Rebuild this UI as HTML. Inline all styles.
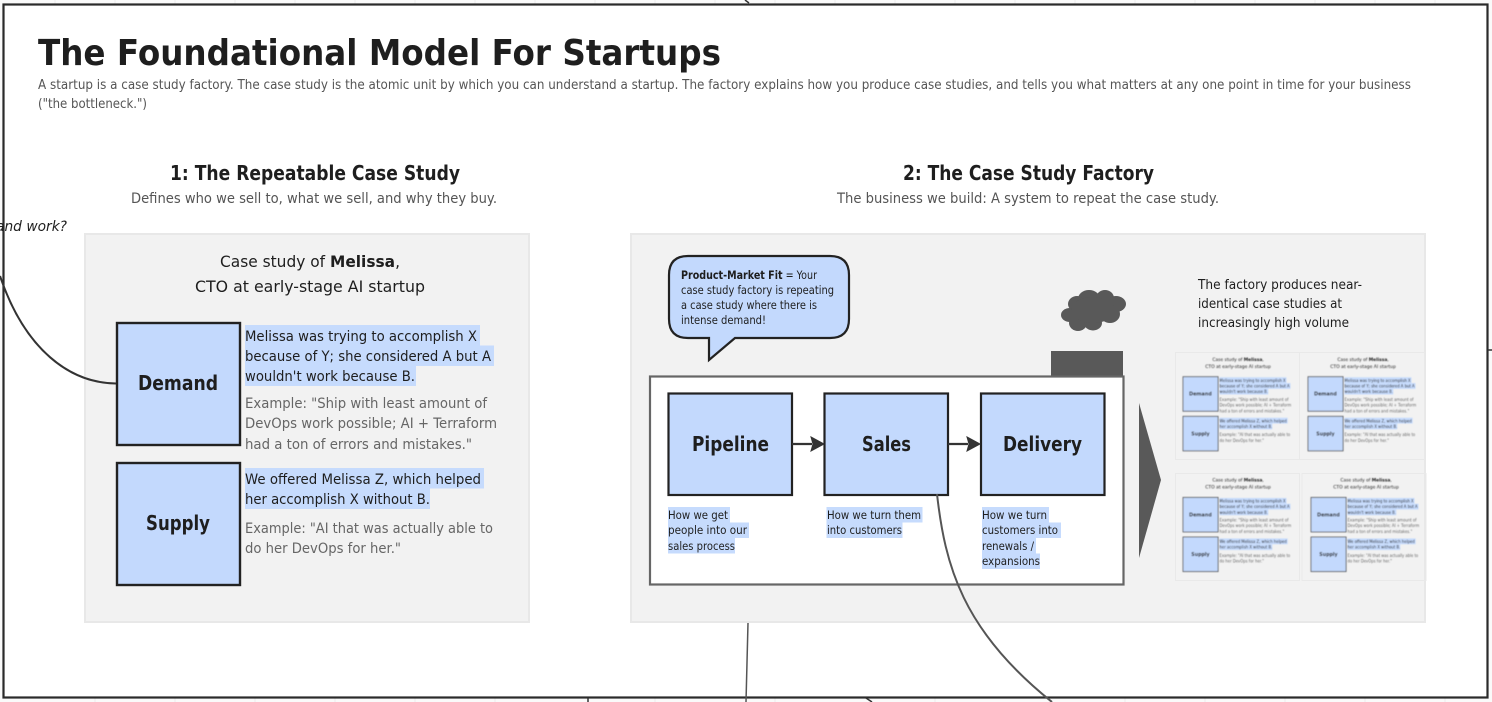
<!DOCTYPE html>
<html><head><meta charset="utf-8"><style>
html,body{margin:0;padding:0;background:#fff;width:1492px;height:702px;overflow:hidden}
svg{display:block}
text{font-family:"DejaVu Sans","Liberation Sans",sans-serif;fill:#1e1e1e}
.b{font-weight:bold}.g{fill:#666}.s{fill:#555}
</style></head><body>
<svg width="1492" height="702" viewBox="0 0 1492 702" xmlns="http://www.w3.org/2000/svg">
<defs><filter id="bl" x="-5%" y="-5%" width="110%" height="110%"><feGaussianBlur stdDeviation="0.5"/></filter></defs>
<rect width="1492" height="702" fill="#fafafa"/>
<g stroke="#ececec" stroke-width="1"><path d="M55 0V4M115 0V4M175 0V4M235 0V4M295 0V4M355 0V4M415 0V4M475 0V4M535 0V4M595 0V4M655 0V4M715 0V4M775 0V4M835 0V4M895 0V4M955 0V4M1015 0V4M1075 0V4M1135 0V4M1195 0V4M1255 0V4M1315 0V4M1375 0V4M1435 0V4M95 698V702M175 698V702M255 698V702M335 698V702M415 698V702M495 698V702M655 698V702M775 698V702M935 698V702M1125 698V702M1205 698V702M1285 698V702M1365 698V702M1445 698V702"/></g>
<rect x="3.500" y="4.500" width="1484" height="693" fill="#fff" stroke="#2a2a2a" stroke-width="2.200"/>
<path d="M588 698V702M745 0L749 3M866 698L872 702M1488 350H1492" stroke="#333" stroke-width="1.500" fill="none"/>

<text class="b" x="38" y="65" font-size="36" textLength="683" lengthAdjust="spacingAndGlyphs">The Foundational Model For Startups</text>
<text class="s" x="38" y="89" font-size="13" textLength="1373" lengthAdjust="spacingAndGlyphs">A startup is a case study factory. The case study is the atomic unit by which you can understand a startup. The factory explains how you produce case studies, and tells you what matters at any one point in time for your business</text>
<text class="s" x="38" y="108" font-size="13" textLength="109" lengthAdjust="spacingAndGlyphs">("the bottleneck.")</text>

<text class="b" x="170" y="180" font-size="20" textLength="290" lengthAdjust="spacingAndGlyphs">1: The Repeatable Case Study</text>
<text class="s" x="131" y="203" font-size="14.500" textLength="366" lengthAdjust="spacingAndGlyphs">Defines who we sell to, what we sell, and why they buy.</text>
<text class="b" x="903" y="180" font-size="20" textLength="251" lengthAdjust="spacingAndGlyphs">2: The Case Study Factory</text>
<text class="s" x="837" y="203" font-size="14.500" textLength="382" lengthAdjust="spacingAndGlyphs">The business we build: A system to repeat the case study.</text>
<text x="-4" y="231" font-size="14" font-style="italic" fill="#333" textLength="71" lengthAdjust="spacingAndGlyphs">and work?</text>

<!-- Panels -->
<rect x="85" y="234" width="444" height="388" fill="#f2f2f2" stroke="#e8e8e8" stroke-width="2"/>
<rect x="631" y="234" width="794" height="388" fill="#f2f2f2" stroke="#e8e8e8" stroke-width="2"/>

<!-- Panel 1 -->
<text x="220" y="267" font-size="16" textLength="180" lengthAdjust="spacingAndGlyphs">Case study of <tspan class="b">Melissa</tspan>,</text>
<text x="195" y="292" font-size="16" textLength="230" lengthAdjust="spacingAndGlyphs">CTO at early-stage AI startup</text>
<rect x="117" y="323" width="123" height="122" fill="#c3d9fd" stroke="#222" stroke-width="2.400"/>
<rect x="117" y="463" width="123" height="122" fill="#c3d9fd" stroke="#222" stroke-width="2.400"/>
<text class="b" x="138" y="390" font-size="20" textLength="80" lengthAdjust="spacingAndGlyphs">Demand</text>
<text class="b" x="146" y="530" font-size="20" textLength="64" lengthAdjust="spacingAndGlyphs">Supply</text>
<g fill="#c6dbfd">
<rect x="245" y="325" width="235" height="20.500"/><rect x="245" y="345.500" width="249" height="20.500"/><rect x="245" y="366" width="171" height="20"/>
<rect x="245" y="468" width="239" height="20.500"/><rect x="245" y="488.500" width="185" height="20.500"/>
</g>
<g font-size="14.500">
<text x="245" y="341" textLength="232" lengthAdjust="spacingAndGlyphs">Melissa was trying to accomplish X</text>
<text x="245" y="361" textLength="246" lengthAdjust="spacingAndGlyphs">because of Y; she considered A but A</text>
<text x="245" y="381" textLength="170" lengthAdjust="spacingAndGlyphs">wouldn't work because B.</text>
<text class="g" x="245" y="408" textLength="242" lengthAdjust="spacingAndGlyphs">Example: "Ship with least amount of</text>
<text class="g" x="245" y="428" textLength="252" lengthAdjust="spacingAndGlyphs">DevOps work possible; AI + Terraform</text>
<text class="g" x="245" y="449" textLength="227" lengthAdjust="spacingAndGlyphs">had a ton of errors and mistakes."</text>
<text x="245" y="484" textLength="236" lengthAdjust="spacingAndGlyphs">We offered Melissa Z, which helped</text>
<text x="245" y="504" textLength="185" lengthAdjust="spacingAndGlyphs">her accomplish X without B.</text>
<text class="g" x="245" y="533" textLength="248" lengthAdjust="spacingAndGlyphs">Example: "AI that was actually able to</text>
<text class="g" x="245" y="553" textLength="156" lengthAdjust="spacingAndGlyphs">do her DevOps for her."</text>
</g>

<!-- Bubble -->
<path d="M688 256H830Q849 256 849 275V319Q849 338 830 338H735L709 360V338H688Q669 338 669 319V275Q669 256 688 256Z" fill="#c3d9fd" stroke="#222" stroke-width="2.200"/>
<g font-size="11.500">
<text x="681" y="279" textLength="136" lengthAdjust="spacingAndGlyphs"><tspan class="b">Product-Market Fit</tspan> = Your</text>
<text x="681" y="294" fill="#333" textLength="153" lengthAdjust="spacingAndGlyphs">case study factory is repeating</text>
<text x="681" y="309" textLength="136" lengthAdjust="spacingAndGlyphs">a case study where there is</text>
<text x="681" y="324" textLength="85" lengthAdjust="spacingAndGlyphs">intense demand!</text>
</g>

<!-- Chimney and smoke -->
<rect x="1051" y="351" width="72" height="26" fill="#595959"/>
<g fill="#595959"><ellipse cx="1089" cy="299" rx="11" ry="9"/><ellipse cx="1105" cy="298" rx="9" ry="8"/><ellipse cx="1116" cy="304" rx="10" ry="8"/><ellipse cx="1110" cy="314" rx="10" ry="9"/><ellipse cx="1077" cy="304" rx="9" ry="8"/><ellipse cx="1070" cy="315" rx="9" ry="7"/><ellipse cx="1078" cy="323" rx="9" ry="8"/><ellipse cx="1093" cy="323" rx="9" ry="7.500"/><ellipse cx="1093" cy="310" rx="22" ry="13"/></g>

<!-- Factory -->
<rect x="650" y="376.500" width="473.500" height="208" fill="#fff" stroke="#666" stroke-width="2.200"/>
<g fill="#c3d9fd" stroke="#222" stroke-width="2.200">
<rect x="668.500" y="393.500" width="123.500" height="101.500"/>
<rect x="824.500" y="393.500" width="123.500" height="101.500"/>
<rect x="981" y="393.500" width="123.500" height="101.500"/>
</g>
<text class="b" x="692" y="451" font-size="20.500" textLength="77" lengthAdjust="spacingAndGlyphs">Pipeline</text>
<text class="b" x="862" y="451" font-size="20.500" textLength="49" lengthAdjust="spacingAndGlyphs">Sales</text>
<text class="b" x="1003" y="451" font-size="20.500" textLength="79" lengthAdjust="spacingAndGlyphs">Delivery</text>
<path d="M792 444H812M948 444H968" stroke="#333" stroke-width="2.200"/>
<path d="M811 437L824 444L811 451L813 444ZM967 437L980 444L967 451L969 444Z" fill="#333" stroke="#333" stroke-width="1"/>

<g fill="#c6dbfd">
<rect x="668" y="507" width="62" height="15.500"/><rect x="668" y="522.500" width="81" height="15.500"/><rect x="668" y="538" width="67" height="15.500"/>
<rect x="826.500" y="507" width="96" height="15.500"/><rect x="826.500" y="522.500" width="76" height="15.500"/>
<rect x="982" y="507" width="67" height="15.500"/><rect x="982" y="522.500" width="79" height="15.500"/><rect x="982" y="538" width="54" height="15.500"/><rect x="982" y="553.500" width="58" height="15.500"/>
</g>
<g font-size="11.500" fill="#333">
<text x="668" y="519" textLength="60" lengthAdjust="spacingAndGlyphs">How we get</text>
<text x="668" y="534" textLength="79" lengthAdjust="spacingAndGlyphs">people into our</text>
<text x="668" y="550" textLength="67" lengthAdjust="spacingAndGlyphs">sales process</text>
<text x="827" y="519" textLength="94" lengthAdjust="spacingAndGlyphs">How we turn them</text>
<text x="827" y="534" textLength="75" lengthAdjust="spacingAndGlyphs">into customers</text>
<text x="982" y="519" textLength="65" lengthAdjust="spacingAndGlyphs">How we turn</text>
<text x="982" y="534" textLength="76" lengthAdjust="spacingAndGlyphs">customers into</text>
<text x="982" y="550" textLength="52" lengthAdjust="spacingAndGlyphs">renewals /</text>
<text x="982" y="565" textLength="58" lengthAdjust="spacingAndGlyphs">expansions</text>
</g>

<path d="M1139 403L1161 480L1139 558Z" fill="#595959"/>

<g font-size="13">
<text x="1198" y="289" textLength="164" lengthAdjust="spacingAndGlyphs">The factory produces near-</text>
<text x="1198" y="308" textLength="144" lengthAdjust="spacingAndGlyphs">identical case studies at</text>
<text x="1198" y="327" textLength="151" lengthAdjust="spacingAndGlyphs">increasingly high volume</text>
</g>

<!-- Mini tiles -->
<g fill="none" stroke="#e9e9e9" stroke-width="1">
<rect x="1175.500" y="352.500" width="124" height="107"/>
<rect x="1299.500" y="352.500" width="125" height="107"/>
<rect x="1175.500" y="473.500" width="124" height="107"/>
<rect x="1302" y="473.500" width="124" height="107"/>
</g>

<g filter="url(#bl)">
<g transform="translate(1149.700 285.300) scale(.285 .283)">
<text x="220" y="267" font-size="16" textLength="180" lengthAdjust="spacingAndGlyphs">Case study of <tspan class="b">Melissa</tspan>,</text>
<text x="195" y="292" font-size="16" textLength="230" lengthAdjust="spacingAndGlyphs">CTO at early-stage AI startup</text>
<rect x="117" y="323" width="123" height="122" fill="#c3d9fd" stroke="#555" stroke-width="3"/>
<rect x="117" y="463" width="123" height="122" fill="#c3d9fd" stroke="#555" stroke-width="3"/>
<text class="b" x="138" y="390" font-size="20" textLength="80" lengthAdjust="spacingAndGlyphs">Demand</text>
<text class="b" x="146" y="530" font-size="20" textLength="64" lengthAdjust="spacingAndGlyphs">Supply</text>
<g fill="#c6dbfd"><rect x="245" y="325" width="235" height="20.500"/><rect x="245" y="345.500" width="249" height="20.500"/><rect x="245" y="366" width="171" height="20"/><rect x="245" y="468" width="239" height="20.500"/><rect x="245" y="488.500" width="185" height="20.500"/></g>
<g font-size="14.500">
<text x="245" y="341" textLength="232" lengthAdjust="spacingAndGlyphs">Melissa was trying to accomplish X</text>
<text x="245" y="361" textLength="246" lengthAdjust="spacingAndGlyphs">because of Y; she considered A but A</text>
<text x="245" y="381" textLength="170" lengthAdjust="spacingAndGlyphs">wouldn't work because B.</text>
<text class="g" x="245" y="408" textLength="242" lengthAdjust="spacingAndGlyphs">Example: "Ship with least amount of</text>
<text class="g" x="245" y="428" textLength="252" lengthAdjust="spacingAndGlyphs">DevOps work possible; AI + Terraform</text>
<text class="g" x="245" y="449" textLength="227" lengthAdjust="spacingAndGlyphs">had a ton of errors and mistakes."</text>
<text x="245" y="484" textLength="236" lengthAdjust="spacingAndGlyphs">We offered Melissa Z, which helped</text>
<text x="245" y="504" textLength="185" lengthAdjust="spacingAndGlyphs">her accomplish X without B.</text>
<text class="g" x="245" y="533" textLength="248" lengthAdjust="spacingAndGlyphs">Example: "AI that was actually able to</text>
<text class="g" x="245" y="553" textLength="156" lengthAdjust="spacingAndGlyphs">do her DevOps for her."</text>
</g></g>
<g transform="translate(1274.700 285.300) scale(.285 .283)">
<text x="220" y="267" font-size="16" textLength="180" lengthAdjust="spacingAndGlyphs">Case study of <tspan class="b">Melissa</tspan>,</text>
<text x="195" y="292" font-size="16" textLength="230" lengthAdjust="spacingAndGlyphs">CTO at early-stage AI startup</text>
<rect x="117" y="323" width="123" height="122" fill="#c3d9fd" stroke="#555" stroke-width="3"/>
<rect x="117" y="463" width="123" height="122" fill="#c3d9fd" stroke="#555" stroke-width="3"/>
<text class="b" x="138" y="390" font-size="20" textLength="80" lengthAdjust="spacingAndGlyphs">Demand</text>
<text class="b" x="146" y="530" font-size="20" textLength="64" lengthAdjust="spacingAndGlyphs">Supply</text>
<g fill="#c6dbfd"><rect x="245" y="325" width="235" height="20.500"/><rect x="245" y="345.500" width="249" height="20.500"/><rect x="245" y="366" width="171" height="20"/><rect x="245" y="468" width="239" height="20.500"/><rect x="245" y="488.500" width="185" height="20.500"/></g>
<g font-size="14.500">
<text x="245" y="341" textLength="232" lengthAdjust="spacingAndGlyphs">Melissa was trying to accomplish X</text>
<text x="245" y="361" textLength="246" lengthAdjust="spacingAndGlyphs">because of Y; she considered A but A</text>
<text x="245" y="381" textLength="170" lengthAdjust="spacingAndGlyphs">wouldn't work because B.</text>
<text class="g" x="245" y="408" textLength="242" lengthAdjust="spacingAndGlyphs">Example: "Ship with least amount of</text>
<text class="g" x="245" y="428" textLength="252" lengthAdjust="spacingAndGlyphs">DevOps work possible; AI + Terraform</text>
<text class="g" x="245" y="449" textLength="227" lengthAdjust="spacingAndGlyphs">had a ton of errors and mistakes."</text>
<text x="245" y="484" textLength="236" lengthAdjust="spacingAndGlyphs">We offered Melissa Z, which helped</text>
<text x="245" y="504" textLength="185" lengthAdjust="spacingAndGlyphs">her accomplish X without B.</text>
<text class="g" x="245" y="533" textLength="248" lengthAdjust="spacingAndGlyphs">Example: "AI that was actually able to</text>
<text class="g" x="245" y="553" textLength="156" lengthAdjust="spacingAndGlyphs">do her DevOps for her."</text>
</g></g>
<g transform="translate(1149.700 406) scale(.285 .283)">
<text x="220" y="267" font-size="16" textLength="180" lengthAdjust="spacingAndGlyphs">Case study of <tspan class="b">Melissa</tspan>,</text>
<text x="195" y="292" font-size="16" textLength="230" lengthAdjust="spacingAndGlyphs">CTO at early-stage AI startup</text>
<rect x="117" y="323" width="123" height="122" fill="#c3d9fd" stroke="#555" stroke-width="3"/>
<rect x="117" y="463" width="123" height="122" fill="#c3d9fd" stroke="#555" stroke-width="3"/>
<text class="b" x="138" y="390" font-size="20" textLength="80" lengthAdjust="spacingAndGlyphs">Demand</text>
<text class="b" x="146" y="530" font-size="20" textLength="64" lengthAdjust="spacingAndGlyphs">Supply</text>
<g fill="#c6dbfd"><rect x="245" y="325" width="235" height="20.500"/><rect x="245" y="345.500" width="249" height="20.500"/><rect x="245" y="366" width="171" height="20"/><rect x="245" y="468" width="239" height="20.500"/><rect x="245" y="488.500" width="185" height="20.500"/></g>
<g font-size="14.500">
<text x="245" y="341" textLength="232" lengthAdjust="spacingAndGlyphs">Melissa was trying to accomplish X</text>
<text x="245" y="361" textLength="246" lengthAdjust="spacingAndGlyphs">because of Y; she considered A but A</text>
<text x="245" y="381" textLength="170" lengthAdjust="spacingAndGlyphs">wouldn't work because B.</text>
<text class="g" x="245" y="408" textLength="242" lengthAdjust="spacingAndGlyphs">Example: "Ship with least amount of</text>
<text class="g" x="245" y="428" textLength="252" lengthAdjust="spacingAndGlyphs">DevOps work possible; AI + Terraform</text>
<text class="g" x="245" y="449" textLength="227" lengthAdjust="spacingAndGlyphs">had a ton of errors and mistakes."</text>
<text x="245" y="484" textLength="236" lengthAdjust="spacingAndGlyphs">We offered Melissa Z, which helped</text>
<text x="245" y="504" textLength="185" lengthAdjust="spacingAndGlyphs">her accomplish X without B.</text>
<text class="g" x="245" y="533" textLength="248" lengthAdjust="spacingAndGlyphs">Example: "AI that was actually able to</text>
<text class="g" x="245" y="553" textLength="156" lengthAdjust="spacingAndGlyphs">do her DevOps for her."</text>
</g></g>
<g transform="translate(1277.700 406) scale(.285 .283)">
<text x="220" y="267" font-size="16" textLength="180" lengthAdjust="spacingAndGlyphs">Case study of <tspan class="b">Melissa</tspan>,</text>
<text x="195" y="292" font-size="16" textLength="230" lengthAdjust="spacingAndGlyphs">CTO at early-stage AI startup</text>
<rect x="117" y="323" width="123" height="122" fill="#c3d9fd" stroke="#555" stroke-width="3"/>
<rect x="117" y="463" width="123" height="122" fill="#c3d9fd" stroke="#555" stroke-width="3"/>
<text class="b" x="138" y="390" font-size="20" textLength="80" lengthAdjust="spacingAndGlyphs">Demand</text>
<text class="b" x="146" y="530" font-size="20" textLength="64" lengthAdjust="spacingAndGlyphs">Supply</text>
<g fill="#c6dbfd"><rect x="245" y="325" width="235" height="20.500"/><rect x="245" y="345.500" width="249" height="20.500"/><rect x="245" y="366" width="171" height="20"/><rect x="245" y="468" width="239" height="20.500"/><rect x="245" y="488.500" width="185" height="20.500"/></g>
<g font-size="14.500">
<text x="245" y="341" textLength="232" lengthAdjust="spacingAndGlyphs">Melissa was trying to accomplish X</text>
<text x="245" y="361" textLength="246" lengthAdjust="spacingAndGlyphs">because of Y; she considered A but A</text>
<text x="245" y="381" textLength="170" lengthAdjust="spacingAndGlyphs">wouldn't work because B.</text>
<text class="g" x="245" y="408" textLength="242" lengthAdjust="spacingAndGlyphs">Example: "Ship with least amount of</text>
<text class="g" x="245" y="428" textLength="252" lengthAdjust="spacingAndGlyphs">DevOps work possible; AI + Terraform</text>
<text class="g" x="245" y="449" textLength="227" lengthAdjust="spacingAndGlyphs">had a ton of errors and mistakes."</text>
<text x="245" y="484" textLength="236" lengthAdjust="spacingAndGlyphs">We offered Melissa Z, which helped</text>
<text x="245" y="504" textLength="185" lengthAdjust="spacingAndGlyphs">her accomplish X without B.</text>
<text class="g" x="245" y="533" textLength="248" lengthAdjust="spacingAndGlyphs">Example: "AI that was actually able to</text>
<text class="g" x="245" y="553" textLength="156" lengthAdjust="spacingAndGlyphs">do her DevOps for her."</text>
</g></g>
</g>

<!-- Connectors -->
<path d="M116 383.500C70 383 25 350 0 276" fill="none" stroke="#333" stroke-width="2"/>
<path d="M937 494C945 565 962 630 1052 702" fill="none" stroke="#555" stroke-width="2"/>
<path d="M748 623L746 702" fill="none" stroke="#555" stroke-width="1.500"/>
</svg>
</body></html>
